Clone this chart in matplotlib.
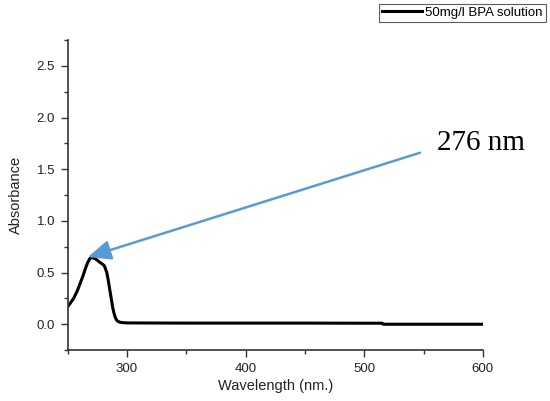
import matplotlib
matplotlib.use("Agg")
import matplotlib.pyplot as plt
from matplotlib.ticker import MultipleLocator

wavelength = [250, 252, 255, 258, 261, 263, 265, 267, 269, 271, 273, 275, 277, 279, 281, 283, 284, 285, 286, 287, 288, 289, 290, 291, 292, 294, 296, 300, 320, 350, 400, 450, 500, 515, 516, 550, 600]
absorbance = [0.17, 0.20, 0.25, 0.32, 0.41, 0.47, 0.54, 0.60, 0.64, 0.645, 0.635, 0.62, 0.60, 0.585, 0.565, 0.50, 0.44, 0.37, 0.30, 0.23, 0.16, 0.11, 0.07, 0.045, 0.03, 0.02, 0.016, 0.013, 0.012, 0.011, 0.011, 0.011, 0.010, 0.010, 0.0, 0.0, 0.0]
series_label = "50mg/l BPA solution"
x_label = "Wavelength (nm.)"
y_label = "Absorbance"
annotation = "276 nm"
arrow_tip = (267, 0.65)
arrow_tail = (547, 1.66)

plt.rcParams['font.family'] = ['Liberation Sans', 'DejaVu Sans']
fig = plt.figure(figsize=(5.5, 4.01), dpi=100)
ax = fig.add_axes([0.123, 0.127, 0.755, 0.773])

line, = ax.plot(wavelength, absorbance, color='black', lw=2.2, label=series_label)
ax.set_xlim(250, 600)
ax.set_ylim(-0.25, 2.75)
ax.xaxis.set_major_locator(MultipleLocator(100))
ax.xaxis.set_minor_locator(MultipleLocator(50))
ax.yaxis.set_major_locator(MultipleLocator(0.5))
ax.yaxis.set_minor_locator(MultipleLocator(0.25))
ax.set_xticks([300, 400, 500, 600])
for s in ['top', 'right']:
    ax.spines[s].set_visible(False)
for s in ['left', 'bottom']:
    ax.spines[s].set_color('#333333')
    ax.spines[s].set_linewidth(1.2)
ax.tick_params(which='major', direction='out', length=5, width=1.0, color='#333333', labelsize=9.5, labelcolor='#222222', pad=4)
ax.tick_params(which='minor', direction='out', length=3, width=1.0, color='#333333')
ax.set_xlabel(x_label, fontsize=10.5, color='#222222', labelpad=3)
ax.set_ylabel(y_label, fontsize=10.5, color='#222222', labelpad=10)

ax.annotate('', xy=arrow_tip, xytext=arrow_tail,
            arrowprops=dict(arrowstyle='-|>,head_length=1.4,head_width=0.6', color='#5B9BD5', lw=1.8, shrinkA=0, shrinkB=0))
fig.text(0.795, 0.643, annotation, fontsize=21, family='Liberation Serif', ha='left', va='center')

leg = fig.legend(handles=[line], loc='upper right', bbox_to_anchor=(0.992, 0.99), fontsize=9.5,
                 frameon=True, fancybox=False, edgecolor='#333333', handlelength=3.0,
                 borderpad=0.2, handletextpad=0.3, borderaxespad=0)
leg.get_frame().set_linewidth(0.8)

fig.savefig('out.png', dpi=100)
